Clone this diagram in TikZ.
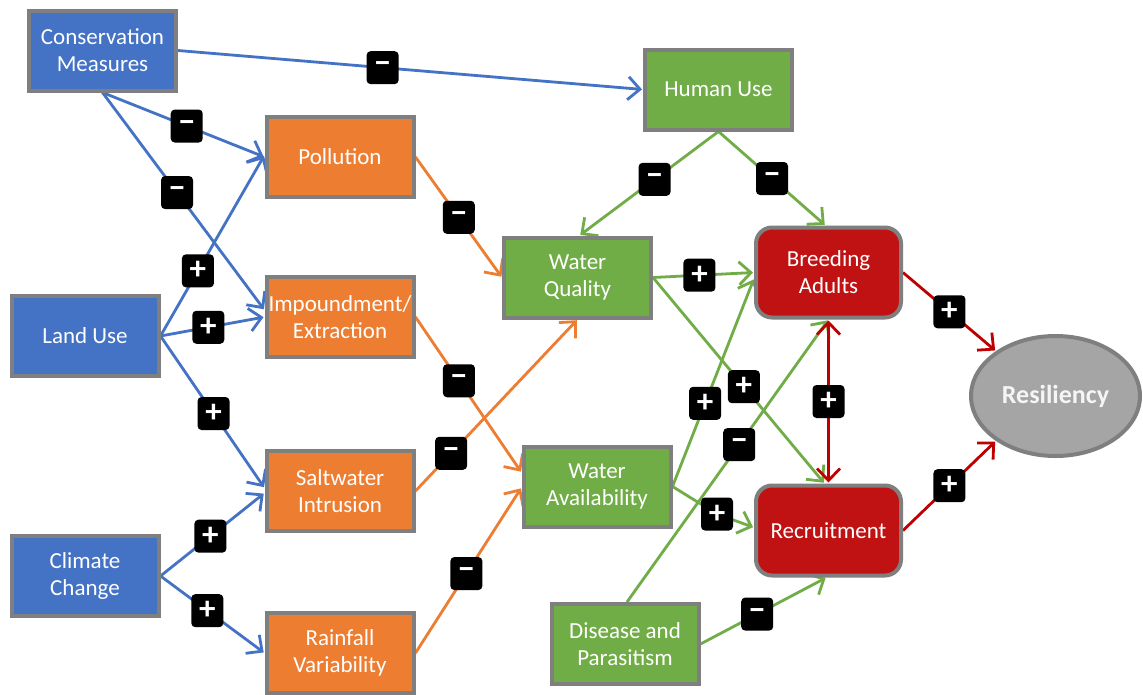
\documentclass[tikz,border=0pt]{standalone}
\usepackage{fontspec}
\setmainfont{Carlito}
\usetikzlibrary{arrows.meta,shapes.geometric}
\pgfdeclarelayer{back}
\pgfdeclarelayer{bg}
\pgfsetlayers{back,bg,main}
\definecolor{nblue}{HTML}{4472C4}
\definecolor{norange}{HTML}{ED7D31}
\definecolor{ngreen}{HTML}{70AD47}
\definecolor{nred}{HTML}{C01212}
\definecolor{lred}{HTML}{C00000}
\definecolor{bgray}{HTML}{7F7F7F}
\definecolor{rgray}{HTML}{A5A5A5}
\tikzset{
  box/.style={draw=bgray, line width=4pt, minimum width=147pt, minimum height=80pt,
    inner sep=0pt, text=white, align=center, font=\fontsize{23}{27}\selectfont},
  bluebox/.style={box, fill=nblue},
  orangebox/.style={box, fill=norange},
  greenbox/.style={box, fill=ngreen},
  redbox/.style={box, fill=nred, rounded corners=16pt, minimum width=145pt, minimum height=90pt},
  resbox/.style={ellipse, draw=bgray, fill=rgray, line width=4pt, minimum width=169pt,
    minimum height=120pt, inner sep=0pt, text=white!96!black, font=\fontsize{26}{30}\selectfont\bfseries},
  sign/.style={fill=black, rounded corners=4pt, minimum width=32pt, minimum height=33pt,
    inner sep=0pt, text=white, font=\fontsize{33}{33}\selectfont\bfseries},
  conn/.style={line width=2.8pt, shorten >=1pt, -{Straight Barb[length=12pt,width=23pt]}},
  be/.style={conn, draw=nblue},
  oe/.style={conn, draw=norange},
  ge/.style={conn, draw=ngreen},
  re/.style={conn, draw=lred},
}
\begin{document}
\begin{tikzpicture}[x=1pt,y=-1pt]
\useasboundingbox (0,0) rectangle (1143,694);
\begin{pgfonlayer}{back}
\fill[white] (0,0) rectangle (1143,694);
\end{pgfonlayer}

% nodes
\node[bluebox] (cm) at (102.5,50.5) {Conservation\\Measures};
\node[bluebox] (lu) at (85,336) {Land Use};
\node[bluebox] (cc) at (85,576) {Climate\\Change};
\node[orangebox] (pol) at (340,157) {Pollution};
\node[orangebox] (imp) at (340,317) {Impoundment/\\Extraction};
\node[orangebox] (salt) at (340,491) {Saltwater\\Intrusion};
\node[orangebox] (rain) at (340,653) {Rainfall\\Variability};
\node[greenbox] (hu) at (718.5,89.5) {Human Use};
\node[greenbox] (wq) at (577.5,277.5) {Water\\Quality};
\node[greenbox] (wa) at (597,486.5) {Water\\Availability};
\node[greenbox] (dis) at (625,644) {Disease and\\Parasitism};
\node[redbox] (ba) at (828.5,272.5) {Breeding\\Adults};
\node[redbox] (rec) at (828.5,530.5) {Recruitment};
\node[resbox] (res) at (1055.5,396) {Resiliency};

\begin{pgfonlayer}{bg}
% blue
\draw[be] (cm.east) -- coordinate[pos=0.44] (s1) (hu.west);
\draw[be] (cm.south) -- coordinate[pos=0.52] (s2) (pol.west);
\draw[be] (cm.south) -- coordinate[pos=0.46] (s3) ([yshift=7pt]imp.west);
\draw[be] (lu.east) -- coordinate[pos=0.36] (s4) ([yshift=2pt]pol.west);
\draw[be] (lu.east) -- coordinate[pos=0.46] (s5) (imp.west);
\draw[be] (lu.east) -- coordinate[pos=0.51] (s6) ([yshift=3pt]salt.west);
\draw[be] (cc.east) -- coordinate[pos=0.48] (s7) ([yshift=-2pt]salt.west);
\draw[be] (cc.east) -- coordinate[pos=0.45] (s8) (rain.west);
% orange
\draw[oe] (pol.east) -- coordinate[pos=0.5] (s9) (wq.west);
\draw[oe] (imp.east) -- coordinate[pos=0.41] (s10) ([yshift=14pt]wa.west);
\draw[oe] (salt.east) -- coordinate[pos=0.22] (s11) (wq.south);
\draw[oe] (rain.east) -- coordinate[pos=0.48] (s12) ([yshift=-1pt]wa.west);
% green
\draw[ge] (hu.south) -- coordinate[pos=0.46] (s13) ([xshift=2pt]wq.north);
\draw[ge] (hu.south) -- coordinate[pos=0.5] (s14) ([xshift=-3pt]ba.north);
\draw[ge] (wq.east) -- coordinate[pos=0.46] (s15) (ba.west);
\draw[ge] (wq.east) -- coordinate[pos=0.53] (s16) ([xshift=-4pt]rec.north);
\draw[ge] (wa.east) -- coordinate[pos=0.4] (s17) ([yshift=-6pt]ba.west);
\draw[ge] (wa.east) -- (717,514) coordinate (s18) -- ([yshift=3pt]rec.west);
\draw[ge] ([xshift=2pt]dis.north) -- coordinate[pos=0.557] (s19) (ba.south);
\draw[ge] (dis.east) -- coordinate[pos=0.45] (s20) ([xshift=-2pt]rec.south);
% red
\draw[re, {Straight Barb[length=12pt,width=23pt]}-{Straight Barb[length=12pt,width=23pt]}, shorten <=1pt]
  (ba.south) -- coordinate[pos=0.5] (s21) (rec.north);
\draw[re] (ba.east) -- coordinate[pos=0.5] (s22) (res.143);
\draw[re] (rec.east) -- coordinate[pos=0.5] (s23) (res.217);
\end{pgfonlayer}

% signs
\node[sign] (m1) at (s1) {−};
\node[sign] (m2) at (s2) {−};
\node[sign] (m3) at (s3) {−};
\node[sign] (p4) at (s4) {+};
\node[sign] (p5) at (s5) {+};
\node[sign] (p6) at (s6) {+};
\node[sign] (p7) at (s7) {+};
\node[sign] (p8) at (s8) {+};
\node[sign] (m9) at (s9) {−};
\node[sign] (m10) at (s10) {−};
\node[sign] (m11) at (s11) {−};
\node[sign] (m12) at (s12) {−};
\node[sign] (m13) at (s13) {−};
\node[sign] (m14) at (s14) {−};
\node[sign] (p15) at (s15) {+};
\node[sign] (p16) at (s16) {+};
\node[sign] (p17) at (s17) {+};
\node[sign] (p18) at (s18) {+};
\node[sign] (m19) at (s19) {−};
\node[sign] (m20) at (s20) {−};
\node[sign] (p21) at (s21) {+};
\node[sign] (p22) at (s22) {+};
\node[sign] (p23) at (s23) {+};
\end{tikzpicture}
\end{document}
